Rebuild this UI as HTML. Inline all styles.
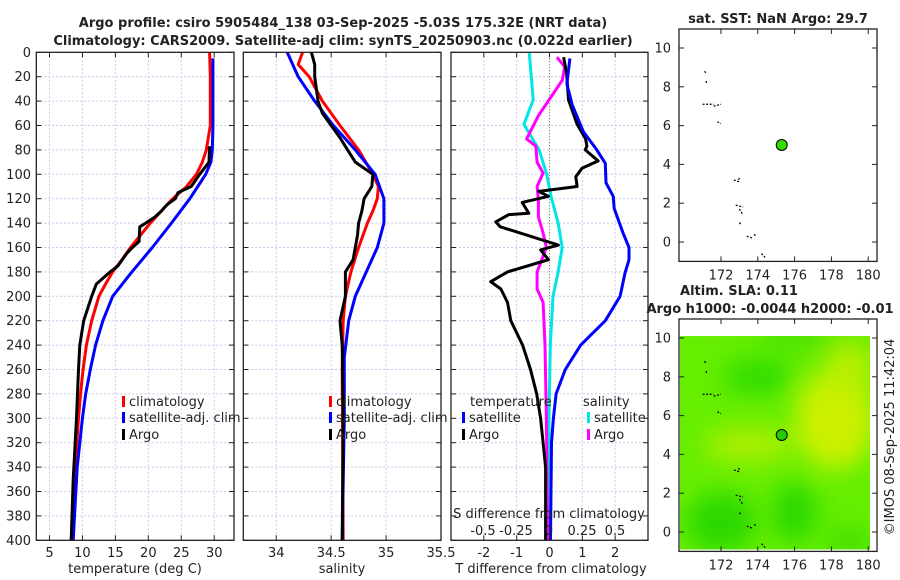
<!DOCTYPE html>
<html><head><meta charset="utf-8"><style>
html,body{margin:0;padding:0;background:#fff;}
svg{display:block;font-family:"DejaVu Sans","Liberation Sans",sans-serif;}
</style></head><body>
<svg id="fig" width="900" height="580" viewBox="0 0 900 580" xmlns="http://www.w3.org/2000/svg">
<g id="g-grid"></g>
<g id="g-lines"></g>
<g id="g-axes"></g>
<g id="g-text" font-size="13" fill="#222"></g>
</svg>
<script>
// ---------- data ----------
const depthTicks = [0,20,40,60,80,100,120,140,160,180,200,220,240,260,280,300,320,340,360,380,400];
const tempTicks = [5,10,15,20,25,30];
const salTicks = [34,34.5,35,35.5];
const salTickLabels = ["34","34.5","35","35.5"];
const tdiffTicks = [-2,-1,0,1,2];
const sdiffTicks = [-0.5,-0.25,0,0.25,0.5];
const sdiffTickLabels = ["-0.5","-0.25","0","0.25","0.5"];

const climTDepth = [0,20,60,80,90,100,110,120,130,140,150,160,170,180,190,200,220,240,260,280,300,340,400];
const climTValue = [29.3,29.4,29.4,28.8,28.2,27.3,25.8,23.7,22,20.3,18.8,17.3,16,14.6,13.5,12.5,11.4,10.6,10.1,9.7,9.4,8.9,8.3];
const satTDepth = [5,60,80,90,100,110,120,140,160,180,200,220,240,260,280,300,340,400];
const satTValue = [29.8,29.8,29.7,29.5,28.7,27.5,26.3,23.5,20.6,17.5,14.6,13.1,12,11.2,10.5,10,9.2,8.6];
const argoTDepth = [77,90,100,110,115,120,125,130,135,140,143,155,160,165,175,180,190,200,210,220,240,260,300,350,400];
const argoTValue = [29.3,29.2,27.8,26.5,24.5,24.1,22.8,22,21,19.6,18.7,18.6,17.6,16.7,15.4,14.2,12.1,11.4,10.8,10.2,9.6,9.4,9.1,8.6,8.3];

const climSDepth = [0,10,20,40,60,80,100,110,120,130,140,160,180,200,220,260,400];
const climSValue = [34.24,34.2,34.3,34.42,34.58,34.75,34.88,34.93,34.92,34.88,34.83,34.75,34.68,34.63,34.61,34.6,34.61];
const satSDepth = [0,20,40,60,80,100,120,140,160,180,200,220,250,300,400];
const satSValue = [34.1,34.2,34.35,34.52,34.72,34.9,34.98,34.98,34.92,34.82,34.72,34.66,34.62,34.62,34.6];
const argoSDepth = [0,10,20,40,50,60,70,80,90,100,110,120,130,140,150,160,170,180,200,220,240,300,400];
const argoSValue = [34.32,34.35,34.35,34.38,34.42,34.5,34.58,34.65,34.72,34.88,34.87,34.8,34.78,34.75,34.74,34.72,34.7,34.63,34.63,34.58,34.6,34.61,34.6];

const satSDiffDepth = [0,39,59,80,99,120,140,160,180,200,240,300,400];
const satSDiffValue = [-0.15,-0.12,-0.19,-0.075,-0.02,0.02,0.07,0.1,0.07,0.03,0.01,0.0,0.0];
const argoSDiffDepth = [4,12,23,39,52,71,77,90,99,110,121,135,148,160,180,194,205,240,300,400];
const argoSDiffValue = [0.06,0.12,0.1,0,-0.08,-0.17,-0.1,-0.09,-0.045,-0.09,-0.08,-0.08,-0.045,-0.02,-0.09,-0.09,-0.045,-0.03,-0.02,-0.01];
const argoTDiffDepth = [4,17,39,59,71,77,80,89,95,102,110,114,118,123,132,133,139,143,158,162,170,180,188,194,205,220,240,260,280,300,340,400];
const argoTDiffValue = [0.43,0.52,0.58,0.84,1.1,1.14,1.09,1.48,0.99,0.8,0.84,-0.33,-0.03,-0.83,-0.63,-1.24,-1.64,-1.5,0.27,-0.27,-0.03,-1.28,-1.79,-1.48,-1.28,-1.18,-0.82,-0.58,-0.39,-0.27,-0.12,-0.12];
const satTDiffDepth = [5,26,43,65,80,91,107,118,128,148,160,170,181,200,220,240,260,280,300,320,400];
const satTDiffValue = [0.62,0.53,0.69,1.03,1.44,1.7,1.72,1.94,1.97,2.24,2.42,2.42,2.3,2.15,1.7,0.95,0.48,0.2,0.12,0.06,0.03];

const mapXTicks = [172,174,176,178,180];
const mapYTicks = [0,2,4,6,8,10];
const argoLon = 175.3, argoLat = 5.0;

// ---------- helpers ----------
const NS="http://www.w3.org/2000/svg";
const gGrid=document.getElementById('g-grid'),gLines=document.getElementById('g-lines'),gAxes=document.getElementById('g-axes'),gText=document.getElementById('g-text');
function mk(tag,attrs,parent){const e=document.createElementNS(NS,tag);for(const k in attrs)e.setAttribute(k,attrs[k]);parent.appendChild(e);return e;}
function txt(s,x,y,anchor,parent,extra){const e=mk('text',Object.assign({x:x,y:y,'text-anchor':anchor||'middle'},extra||{}),parent||gText);e.textContent=s;return e;}
const Y0=52.3,DY=1.22;
function yD(d){return Y0+d*DY;}
const panels=[
 {x0:36.3,x1:234,vmin:3,vmax:33},
 {x0:243.3,x1:441,vmin:33.7,vmax:35.5},
 {x0:451,x1:648,vmin:-3,vmax:3}
];
function xP(p,v){return p.x0+(v-p.vmin)*(p.x1-p.x0)/(p.vmax-p.vmin);}
function xS(v){return 549+v*132;}
function line(xs,ds,fx,color,name){
 let d='';for(let i=0;i<xs.length;i++){d+=(i?'L':'M')+fx(xs[i]).toFixed(1)+' '+yD(ds[i]).toFixed(1);}
 const e=mk('path',{d:d,fill:'none',stroke:color,'stroke-width':3,'stroke-linejoin':'round'},gLines);
 
 
}

// ---------- panels: grid and frame ----------
panels.forEach((p,pi)=>{
 depthTicks.forEach(d=>{ if(d>0&&d<400) mk('line',{x1:p.x0,x2:p.x1,y1:yD(d),y2:yD(d),stroke:'#c3c8ea','stroke-width':1,'stroke-dasharray':'2,2'},gGrid);});
 const vt = pi===0?tempTicks:(pi===1?salTicks:tdiffTicks);
 vt.forEach(v=>{const x=xP(p,v); if(x>p.x0+1&&x<p.x1-1) mk('line',{x1:x,x2:x,y1:Y0,y2:yD(400),stroke:(pi===2&&v===0)?'#556633':'#d8c8dd','stroke-width':1,'stroke-dasharray':(pi===2&&v===0)?'1,2':'2,2'},gGrid);});
 const fr=mk('rect',{x:p.x0,y:Y0,width:p.x1-p.x0,height:yD(400)-Y0,fill:'none',stroke:'#222','stroke-width':1.3},gAxes);
 
 
 depthTicks.forEach(d=>{mk('line',{x1:p.x0,x2:p.x0+5,y1:yD(d),y2:yD(d),stroke:'#222'},gAxes);mk('line',{x1:p.x1,x2:p.x1-5,y1:yD(d),y2:yD(d),stroke:'#222'},gAxes);});
 vt.forEach(v=>{const x=xP(p,v);mk('line',{x1:x,x2:x,y1:yD(400),y2:yD(400)-5,stroke:'#222'},gAxes);mk('line',{x1:x,x2:x,y1:Y0,y2:Y0+5,stroke:'#222'},gAxes);});
});
// depth labels
depthTicks.forEach(d=>{const t=txt(String(d),31,yD(d)+4.5,'end');});
tempTicks.forEach(v=>{const t=txt(String(v),xP(panels[0],v),557);});
salTicks.forEach((v,i)=>{const t=txt(salTickLabels[i],xP(panels[1],v),557);});
tdiffTicks.forEach(v=>{const t=txt(String(v),xP(panels[2],v),557);});
sdiffTicks.forEach((v,i)=>{const t=txt(sdiffTickLabels[i],xS(v),535);});

// ---------- series ----------
const P0=panels[0],P1=panels[1],P2=panels[2];
line(climTValue,climTDepth,v=>xP(P0,v),'#ff0000','climatology-temperature-line');
line(satTValue,satTDepth,v=>xP(P0,v),'#0000ff','satellite-temperature-line');
line(argoTValue,argoTDepth,v=>xP(P0,v),'#000000','argo-temperature-line');
line(climSValue,climSDepth,v=>xP(P1,v),'#ff0000','climatology-salinity-line');
line(satSValue,satSDepth,v=>xP(P1,v),'#0000ff','satellite-salinity-line');
line(argoSValue,argoSDepth,v=>xP(P1,v),'#000000','argo-salinity-line');
line(satSDiffValue,satSDiffDepth,xS,'#00e5e5','satellite-s-diff-line');
line(argoSDiffValue,argoSDiffDepth,xS,'#ff00ff','argo-s-diff-line');
line(argoTDiffValue,argoTDiffDepth,v=>xP(P2,v),'#000000','argo-t-diff-line');
line(satTDiffValue,satTDiffDepth,v=>xP(P2,v),'#0000ff','satellite-t-diff-line');

// ---------- legends ----------
function legend(x,y,color,label,name){
 const r=mk('rect',{x:x,y:y-10,width:3,height:11,fill:color},gText);
 
 const t=txt(label,x+7,y,'start');
}
legend(122,406,'#ff0000','climatology','legend-climatology-t');
legend(122,422,'#0000ff','satellite-adj. clim','legend-satellite-t');
legend(122,439,'#000000','Argo','legend-argo-t');
legend(329,406,'#ff0000','climatology','legend-climatology-s');
legend(329,422,'#0000ff','satellite-adj. clim','legend-satellite-s');
legend(329,439,'#000000','Argo','legend-argo-s');
{const t=txt('temperature',470,406,'start');}
legend(462,422,'#0000ff','satellite','legend-satellite-tdiff');
legend(462,439,'#000000','Argo','legend-argo-tdiff');
{const t=txt('salinity',583,406,'start');}
legend(587,422,'#00e5e5','satellite','legend-satellite-sdiff');
legend(587,439,'#ff00ff','Argo','legend-argo-sdiff');

// ---------- map panels ----------
function mx(lon){return 721+(lon-172)*18.4;}
function my(lat,off){return 242+off-lat*19.4;}
function mapPanel(off,name,colored){
 const g=mk('g',{},gAxes);
 
 
 if(colored){
  const defs=mk('defs',{},g);
  const f=mk('filter',{id:'blur',x:'-50%',y:'-50%',width:'200%',height:'200%'},defs);
  mk('feGaussianBlur',{stdDeviation:12},f);
  const cp=mk('clipPath',{id:'mclip'},defs);
  mk('rect',{x:680,y:my(10.1,off),width:190,height:my(-0.9,off)-my(10.1,off)},cp);
  const cg=mk('g',{'clip-path':'url(#mclip)'},g);
  mk('rect',{x:680,y:my(10.1,off),width:190,height:my(-0.9,off)-my(10.1,off),fill:'#66ee00'},cg);
  const bg=mk('g',{filter:'url(#blur)'},cg);
  mk('ellipse',{cx:mx(178.2),cy:my(5.8,off),rx:40,ry:50,fill:'#ccf000'},bg);
  mk('ellipse',{cx:mx(179),cy:my(8.5,off),rx:25,ry:25,fill:'#b8ee00'},bg);
  mk('ellipse',{cx:mx(173.5),cy:my(4.5,off),rx:45,ry:18,fill:'#aaee00'},bg);
  mk('ellipse',{cx:mx(174),cy:my(8,off),rx:35,ry:18,fill:'#33dd00'},bg);
  mk('ellipse',{cx:mx(176),cy:my(10,off),rx:40,ry:10,fill:'#44e000'},bg);
  mk('ellipse',{cx:mx(172),cy:my(0.5,off),rx:35,ry:30,fill:'#2ad800'},bg);
  mk('ellipse',{cx:mx(176),cy:my(1,off),rx:22,ry:30,fill:'#2ad800'},bg);
  mk('ellipse',{cx:mx(179),cy:my(-0.5,off),rx:25,ry:15,fill:'#44e000'},bg);
 }
 const fr=mk('rect',{x:679,y:my(10.98,off),width:198,height:my(-1,off)-my(10.98,off),fill:'none',stroke:'#222','stroke-width':1.3},g);
 
 
 mapXTicks.forEach(v=>{const x=mx(v);mk('line',{x1:x,x2:x,y1:my(-1,off),y2:my(-1,off)-5,stroke:'#222'},g);mk('line',{x1:x,x2:x,y1:my(10.98,off),y2:my(10.98,off)+5,stroke:'#222'},g);
  const t=txt(String(v),x,my(-1,off)+18);});
 mapYTicks.forEach(v=>{const y=my(v,off);mk('line',{x1:679,x2:684,y1:y,y2:y,stroke:'#222'},g);mk('line',{x1:877,x2:872,y1:y,y2:y,stroke:'#222'},g);
  const t=txt(String(v),671,y+4.5,'end');});
 // coastline bits
 const coast=[[171.1,8.8,171.2,8.7],[171.2,8.3,171.2,8.2],[171.0,7.1,171.6,7.1],[171.6,7.0,172.0,7.1],[171.8,6.2,172.0,6.1],[172.7,3.2,173.0,3.1],[173.0,3.3,172.9,3.1],[172.8,1.9,173.2,1.8],[173.0,1.7,173.2,1.4],[173.0,1.0,173.1,0.9],[173.4,0.3,173.7,0.2],[173.8,0.4,173.9,0.3],[174.2,-0.6,174.4,-0.8]];
 coast.forEach(c=>mk('line',{x1:mx(c[0]),y1:my(c[1],off),x2:mx(c[2]),y2:my(c[3],off),stroke:'#000','stroke-width':1.2,'stroke-dasharray':'2,1.5'},g));
 const dot=mk('circle',{cx:mx(argoLon),cy:my(argoLat,off),r:5.5,fill:colored?'#22cc00':'#33dd00',stroke:'#000','stroke-width':1},g);
 
 
}
mapPanel(0,'sst-map',false);
mapPanel(290,'sla-map',true);

// ---------- titles ----------
function title(s,x,y,name,extra){const t=txt(s,x,y,'middle',gText,Object.assign({'font-weight':'bold'},extra||{}));}
title('Argo profile: csiro 5905484_138 03-Sep-2025 -5.03S 175.32E (NRT data)',343,27,'title-line-1');
title('Climatology: CARS2009. Satellite-adj clim: synTS_20250903.nc (0.022d earlier)',343,45,'title-line-2');
title('sat. SST: NaN Argo: 29.7',778,23,'sst-map-title');
title('Altim. SLA: 0.11',739,295,'sla-map-title');
title('Argo h1000: -0.0044 h2000: -0.01',770,313,'sla-map-subtitle');
{const t=txt('temperature (deg C)',135,573);}
{const t=txt('salinity',342,573);}
{const t=txt('T difference from climatology',551,573);}
{const t=txt('S difference from climatology',549,518);}
{const t=txt('©IMOS 08-Sep-2025 11:42:04',0,0,'middle',gText,{transform:'translate(894,437) rotate(-90)'});}
</script>
</body></html>
